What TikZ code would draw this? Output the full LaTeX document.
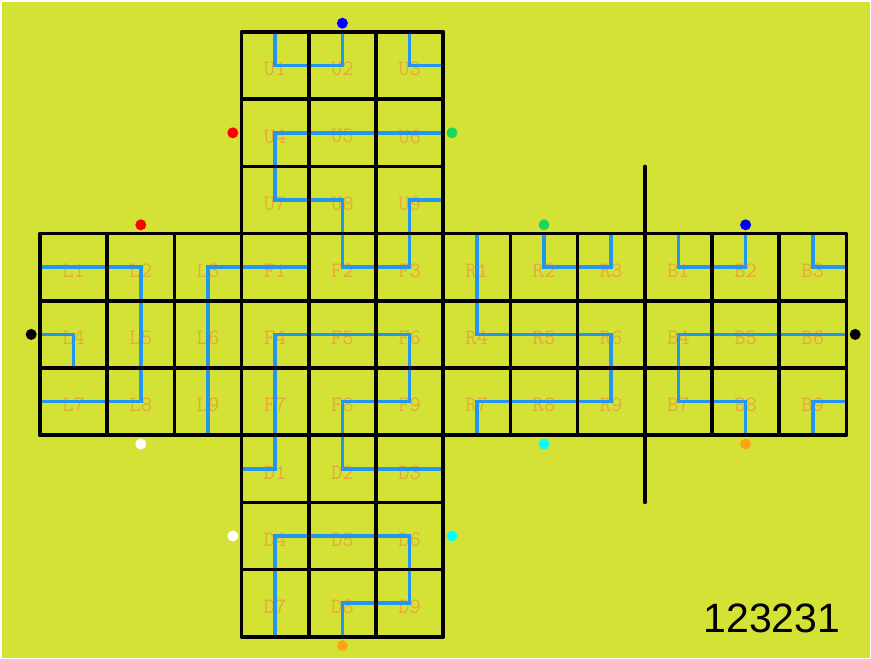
\documentclass[tikz,border=0pt]{standalone}
\usepackage{fontspec}
\setmainfont{Liberation Sans}
\definecolor{bgc}{RGB}{212,226,54}
\definecolor{pathc}{RGB}{35,150,240}
\definecolor{labc}{RGB}{228,170,60}
\definecolor{dgreen}{RGB}{30,215,90}
\definecolor{dorange}{RGB}{255,165,20}
\definecolor{dcyan}{RGB}{0,255,255}
\definecolor{dblue}{RGB}{0,0,255}
\definecolor{dred}{RGB}{255,0,0}
\tikzset{
  gridline/.style={line width=3.5pt, black, line cap=round},
  bluepath/.style={line width=3.5pt, pathc, line join=miter},
  lab/.style={font=\ttfamily\fontsize{22}{22}\selectfont, text=labc, inner sep=0pt},
  dot/.style={circle, fill=#1, inner sep=0pt, minimum size=11pt},
  numtext/.style={font=\fontsize{41}{41}\selectfont, text=black, inner sep=0pt}
}
\begin{document}
\begin{tikzpicture}[x=1pt,y=-1pt]
\useasboundingbox (0,0) rectangle (871,659);
\fill[white] (0,0) rectangle (871,659);
\fill[bgc] (1.5,1.5) rectangle (869.5,657.5);
% cell centres and labels
\foreach \f/\fc/\fr in {U/3/0, L/0/3, F/3/3, R/6/3, B/9/3, D/3/6} {
  \foreach \i in {1,...,9} {
    \pgfmathtruncatemacro\cc{\fc+mod(\i-1,3)}
    \pgfmathtruncatemacro\rr{\fr+div(\i-1,3)}
    \coordinate (\f\i) at ({40+67.2*(\cc+0.5)},{32+67.2*(\rr+0.5)});
    \node[lab] (n\f\i) at ([yshift=-3.5pt]\f\i) {\f\i};
  }
}
% blue paths
\draw[bluepath] ([yshift=33.6pt]U1) -- (U1) -- (U2) -- ([yshift=33.6pt]U2);
\draw[bluepath] ([yshift=33.6pt]U3) -- (U3) -- ([xshift=33.6pt]U3);
\draw[bluepath] ([xshift=33.6pt]U6) -- (U4) -- (U7) -- (U8) -- (F2) -- (F3) -- (U9) -- ([xshift=33.6pt]U9);
\draw[bluepath] ([xshift=-33.6pt]L1) -- (L2) -- (L8) -- ([xshift=-33.6pt]L7);
\draw[bluepath] ([xshift=-33.6pt]L4) -- (L4) -- ([yshift=-33.6pt]L4);
\draw[bluepath] ([yshift=-33.6pt]L9) -- (L3) -- ([xshift=33.6pt]F1);
\draw[bluepath] ([xshift=-33.6pt]D1) -- (D1) -- (F4) -- (F6) -- (F9) -- (F8) -- (D2) -- ([xshift=33.6pt]D3);
\draw[bluepath] ([yshift=-33.6pt]D7) -- (D4) -- (D6) -- (D9) -- (D8) -- ([yshift=-33.6pt]D8);
\draw[bluepath] ([yshift=33.6pt]R1) -- (R4) -- (R6) -- (R9) -- (R7) -- ([yshift=-33.6pt]R7);
\draw[bluepath] ([yshift=33.6pt]R2) -- (R2) -- (R3) -- ([yshift=33.6pt]R3);
\draw[bluepath] ([yshift=33.6pt]B1) -- (B1) -- (B2) -- ([yshift=33.6pt]B2);
\draw[bluepath] ([yshift=33.6pt]B3) -- (B3) -- ([xshift=33.6pt]B3);
\draw[bluepath] ([xshift=33.6pt]B6) -- (B4) -- (B7) -- (B8) -- ([yshift=-33.6pt]B8);
\draw[bluepath] ([yshift=-33.6pt]B9) -- (B9) -- ([xshift=33.6pt]B9);
% grid
\foreach \y in {32,99.2,166.4,502.4,569.6,636.8} \draw[gridline] (241.6,\y) -- (443.2,\y);
\foreach \y in {233.6,300.8,368,435.2} \draw[gridline] (40,\y) -- (846.4,\y);
\foreach \x in {40,107.2,174.4,510.4,577.6,712,779.2,846.4} \draw[gridline] (\x,233.6) -- (\x,435.2);
\foreach \x in {241.6,308.8,376,443.2} \draw[gridline] (\x,32) -- (\x,636.8);
\draw[gridline] (644.8,166.4) -- (644.8,502.4);
% dots
\node[dot=dblue] (bl1) at ([yshift=42.4pt]U2) {};
\node[dot=dblue] (bl2) at ([yshift=42.4pt]B2) {};
\node[dot=dred] (rd1) at ([xshift=-42.4pt]U4) {};
\node[dot=dred] (rd2) at ([yshift=42.4pt]L2) {};
\node[dot=dgreen] (gr1) at ([xshift=42.4pt]U6) {};
\node[dot=dgreen] (gr2) at ([yshift=42.4pt]R2) {};
\node[dot=black] (bk1) at ([xshift=-42.4pt]L4) {};
\node[dot=black] (bk2) at ([xshift=42.4pt]B6) {};
\node[dot=white] (wh1) at ([yshift=-42.4pt]L8) {};
\node[dot=white] (wh2) at ([xshift=-42.4pt]D4) {};
\node[dot=dcyan] (cy1) at ([yshift=-42.4pt]R8) {};
\node[dot=dcyan] (cy2) at ([xshift=42.4pt]D6) {};
\node[dot=dorange] (or1) at ([yshift=-42.4pt]B8) {};
\node[dot=dorange] (or2) at ([yshift=-42.4pt]D8) {};
% number
\node[numtext] (num) at (772,618) {123231};
\end{tikzpicture}
\end{document}
